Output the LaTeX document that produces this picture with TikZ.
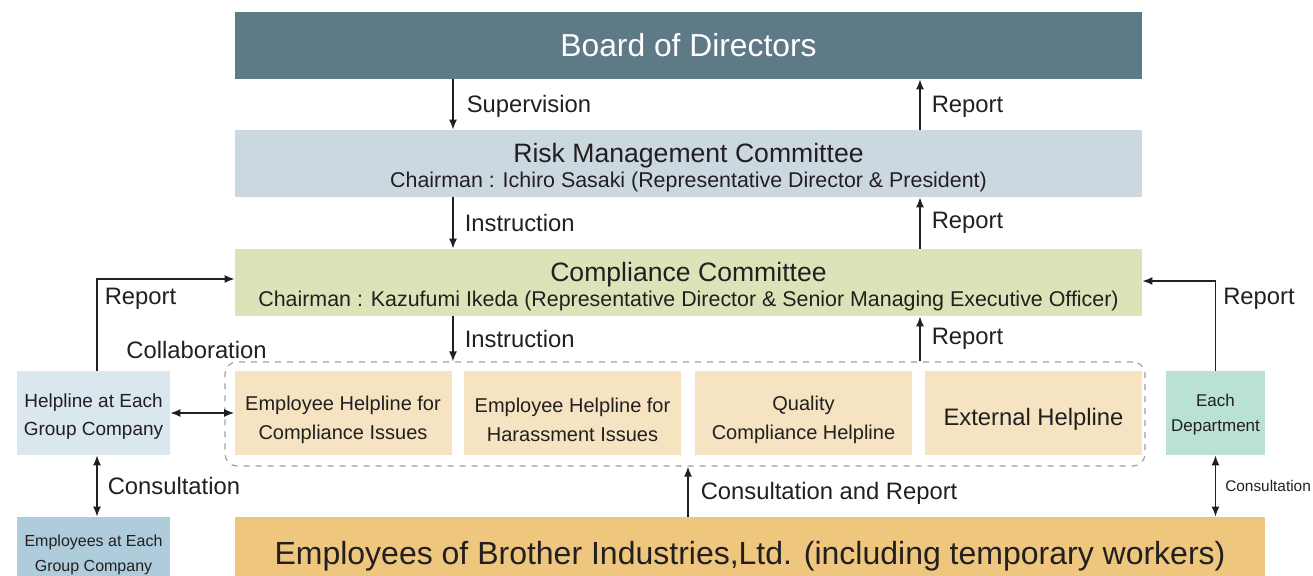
\documentclass[tikz,border=0pt]{standalone}
\usepackage{fontspec}
\setmainfont{Liberation Sans}
\usetikzlibrary{arrows.meta, positioning}
\definecolor{BoardSlate}{HTML}{5F7A87}
\definecolor{RiskGrey}{HTML}{CBD8DF}
\definecolor{ComplianceOlive}{HTML}{DCE3B9}
\definecolor{HelpPeach}{HTML}{F5E3C1}
\definecolor{GroupBlue}{HTML}{DBE7EE}
\definecolor{DeptMint}{HTML}{B9E1D6}
\definecolor{StaffBlue}{HTML}{AECCDB}
\definecolor{StaffOrange}{HTML}{EEC67D}
\definecolor{InkDark}{HTML}{231F20}
\definecolor{FrameGrey}{HTML}{A0A0A0}

\tikzset{
  orgbox/.style={inner sep=0pt, align=center, text=InkDark},
  wide/.style={orgbox, minimum width=453.5pt, minimum height=33.5pt},
  helpbox/.style={orgbox, fill=HelpPeach, minimum width=108.5pt, minimum height=42pt,
                  text height=28.5pt, font=\fontsize{10}{14.5}\selectfont},
  arr/.style={draw=InkDark, line width=0.75pt, -{Latex[length=5pt, width=4pt]}},
  dblarr/.style={arr, {Latex[length=5pt, width=4pt]}-{Latex[length=5pt, width=4pt]}},
  lbl/.style={text=InkDark, font=\fontsize{11.9}{14}\selectfont, inner sep=0pt},
}

\begin{document}
\begin{tikzpicture}[x=0.5pt, y=-0.5pt]
\useasboundingbox (0,0) rectangle (1313,576);

% committees
\node[wide, fill=BoardSlate, text=white, font=\fontsize{15.9}{18}\selectfont] (board) at (688.5,45.5) {Board of Directors};
\node[wide, fill=RiskGrey, text height=26.5pt] (risk) at (688.5,163.5)
  {{\fontsize{13.3}{15}\selectfont Risk Management Committee}\\[0.5pt]
   {\fontsize{10.7}{13}\selectfont Chairman : Ichiro Sasaki (Representative Director \& President)}};
\node[wide, fill=ComplianceOlive, text height=26.5pt] (comp) at (688.5,282.5)
  {{\fontsize{13.3}{15}\selectfont Compliance Committee}\\[0.5pt]
   {\fontsize{10.7}{13}\selectfont Chairman : Kazufumi Ikeda (Representative Director \& Senior Managing Executive Officer)}};

% helplines
\node[draw=FrameGrey, dashed, line width=0.6pt, rounded corners=6pt, minimum width=460pt, minimum height=52pt] (frame) at (685,414) {};
\node[helpbox] (hlcomp) at (343,413) {Employee Helpline for\\Compliance Issues};
\node[helpbox] (hlharass) at (572.5,413) {Employee Helpline for\\Harassment Issues};
\node[helpbox] (hlquality) at (803.5,413) {Quality\\Compliance Helpline};
\node[helpbox, text height=14.7pt, font=\fontsize{11.9}{14}\selectfont] (hlext) at (1033.5,413) {External Helpline};

\node[orgbox, fill=GroupBlue, minimum width=76.5pt, minimum height=42pt, text height=24.9pt, font=\fontsize{9.5}{14}\selectfont] (group) at (93.5,413) {Helpline at Each\\Group Company};
\node[orgbox, fill=DeptMint, minimum width=49.5pt, minimum height=42pt, text height=20.7pt, font=\fontsize{8.5}{12.5}\selectfont] (dept) at (1215.5,413) {Each\\Department};

% employees
\node[orgbox, fill=StaffBlue, minimum width=76.5pt, minimum height=35.5pt, text height=20.3pt, font=\fontsize{8}{12.5}\selectfont] (staffgroup) at (93.5,552.5) {Employees at Each\\Group Company};
\node[orgbox, fill=StaffOrange, minimum width=515pt, minimum height=35.5pt, text height=15.5pt, font=\fontsize{16}{18}\selectfont] (staff) at (750,552.5) {Employees of Brother Industries,Ltd. (including temporary workers)};

% connectors
\coordinate (xl) at (453,0);
\coordinate (xr) at (920,0);
\coordinate (xc) at (688,0);
\coordinate (xg) at (97,0);

\draw[arr] (xl |- board.south) -- node[lbl, right, xshift=6.5pt, yshift=-1pt] {Supervision} (xl |- risk.north);
\draw[arr] (xr |- risk.north) -- node[lbl, right, xshift=5.5pt, yshift=-1pt] {Report} (xr |- board.south);
\draw[arr] (xl |- risk.south) -- node[lbl, right, xshift=5.5pt] {Instruction} (xl |- comp.north);
\draw[arr] (xr |- comp.north) -- node[lbl, right, xshift=5.5pt] {Report} (xr |- risk.south);
\draw[arr] (xl |- comp.south) -- node[lbl, right, xshift=5.5pt] {Instruction} (xl |- frame.north);
\draw[arr] (xr |- frame.north) -- node[lbl, right, xshift=5.5pt] {Report} (xr |- comp.south);

\draw[arr] (xg |- group.north) |- node[lbl, pos=0.39, right, xshift=3.5pt] {Report} ([yshift=1.75pt]comp.west);
\draw[arr] (dept.north) |- node[lbl, pos=0.4, right, xshift=3.5pt] {Report} ([yshift=0.75pt]comp.east);
\draw[dblarr] (group.east) -- (hlcomp.west);
\node[lbl, anchor=west] (collab) at (126,350) {Collaboration};

\draw[dblarr] (xg |- group.south) -- node[lbl, right, xshift=5pt] {Consultation} (xg |- staffgroup.north);
\draw[dblarr] (dept.south) -- node[lbl, right, xshift=4.5pt, font=\fontsize{7.7}{9}\selectfont] {Consultation} (dept.south |- staff.north);
\draw[arr] (xc |- staff.north) -- node[lbl, right, xshift=6pt, yshift=-1pt] {Consultation and Report} (xc |- frame.south);

\end{tikzpicture}
\end{document}
